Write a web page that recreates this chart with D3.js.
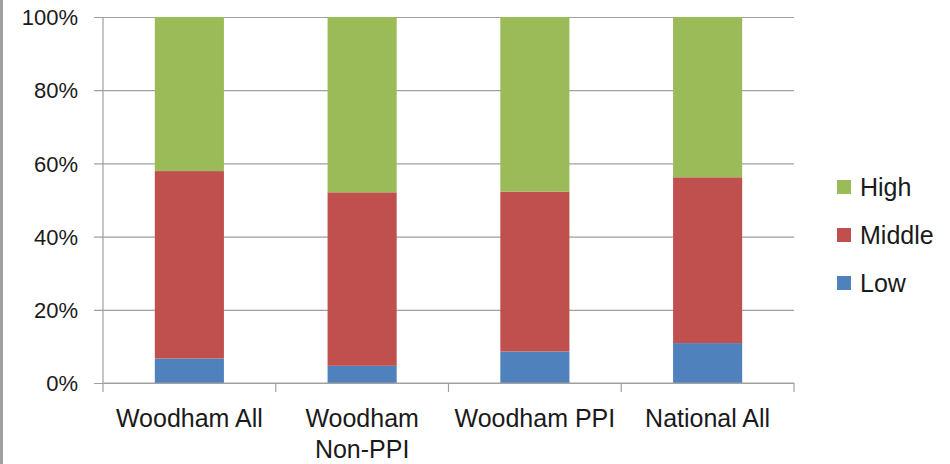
<!DOCTYPE html>
<html>
<head>
<meta charset="utf-8">
<script src="https://cdn.jsdelivr.net/npm/d3@7/dist/d3.min.js"></script>
<style>
  html, body { margin: 0; padding: 0; background: #fff; }
  svg { display: block; }
  text { font-family: "Liberation Sans", Arial, sans-serif; fill: #1a1a1a; }
</style>
</head>
<body>
<svg id="chart" width="950" height="464"></svg>
<script>
const categories = ["Woodham All", "Woodham Non-PPI", "Woodham PPI", "National All"];
const categoryLines = [["Woodham All"], ["Woodham", "Non-PPI"], ["Woodham PPI"], ["National All"]];
const seriesNames = ["Low", "Middle", "High"];
const low    = [6.7, 4.7, 8.6, 10.9];
const middle = [51.2, 47.4, 43.7, 45.3];
const high   = [42.1, 47.9, 47.7, 43.8];
const yTicks = [0, 20, 40, 60, 80, 100];
const colors = ["#4F81BD", "#C0504D", "#9BBB59"];

const svg = d3.select("#chart");
const W = 950, H = 464;
const m = { left: 103, right: 156, top: 17, bottom: 81 };
const x0 = m.left, x1 = W - m.right, y0 = H - m.bottom, y1 = m.top;

// left border line
svg.append("rect").attr("x", 0).attr("y", 0).attr("width", 3).attr("height", H).attr("fill", "#a0a0a0");

const x = d3.scaleBand().domain(categories).range([x0, x1]).paddingInner(0.6).paddingOuter(0.3);
const xOuter = d3.scaleBand().domain(categories).range([x0, x1]);
const y = d3.scaleLinear().domain([0, 100]).range([y0, y1]);

const gridColor = "#a0a0a0";

// gridlines + left ticks
const yAxis = d3.axisLeft(y).tickValues(yTicks).tickSize(-(x1 - x0)).tickPadding(16).tickFormat(d => d + "%");
const gy = svg.append("g").attr("transform", `translate(${x0},0)`).call(yAxis);
gy.select(".domain").remove();
gy.selectAll(".tick line").attr("stroke", gridColor).attr("x1", -9).attr("stroke-width", 1.2);
gy.selectAll(".tick text").attr("font-size", 22).attr("x", -25).attr("dy", "0.35em")
  .style("font-family", '"Liberation Sans", Arial, sans-serif').attr("fill", "#1a1a1a");

// vertical axis line
svg.append("line").attr("x1", x0).attr("x2", x0).attr("y1", y1).attr("y2", y0)
  .attr("stroke", gridColor).attr("stroke-width", 1.2);

// stacked data
const rows = categories.map((c, i) => ({ cat: c, Low: low[i], Middle: middle[i], High: high[i] }));
const stack = d3.stack().keys(seriesNames)(rows);

svg.append("g").selectAll("g").data(stack).join("g")
  .attr("fill", (d, i) => colors[i])
  .selectAll("rect").data(d => d).join("rect")
  .attr("x", d => x(d.data.cat))
  .attr("width", x.bandwidth())
  .attr("y", d => y(d[1]))
  .attr("height", d => y(d[0]) - y(d[1]));

// bottom axis
svg.append("line").attr("x1", x0).attr("x2", x1).attr("y1", y0).attr("y2", y0)
  .attr("stroke", gridColor).attr("stroke-width", 1.2);
const boundaries = categories.map(c => xOuter(c)).concat([x1]);
svg.append("g").selectAll("line").data(boundaries).join("line")
  .attr("x1", d => d).attr("x2", d => d).attr("y1", y0).attr("y2", y0 + 9)
  .attr("stroke", gridColor).attr("stroke-width", 1.2);

// x labels
const lab = svg.append("g").selectAll("text").data(categories).join("text")
  .attr("text-anchor", "middle").attr("font-size", 25)
  .attr("x", d => xOuter(d) + xOuter.bandwidth() / 2)
  .attr("y", 427);
lab.each(function(d, i) {
  const t = d3.select(this);
  categoryLines[i].forEach((ln, j) => {
    t.append("tspan").attr("x", xOuter(d) + xOuter.bandwidth() / 2).attr("y", 427 + j * 31).text(ln);
  });
});

// legend
const legendItems = seriesNames.map((s, i) => ({ name: s, color: colors[i] })).reverse();
const lg = svg.append("g").selectAll("g").data(legendItems).join("g")
  .attr("transform", (d, i) => `translate(837, ${180 + i * 48})`);
lg.append("rect").attr("width", 14).attr("height", 14).attr("fill", d => d.color);
lg.append("text").attr("x", 23).attr("y", 7).attr("dy", "0.35em").attr("font-size", 25).text(d => d.name);
</script>
</body>
</html>
